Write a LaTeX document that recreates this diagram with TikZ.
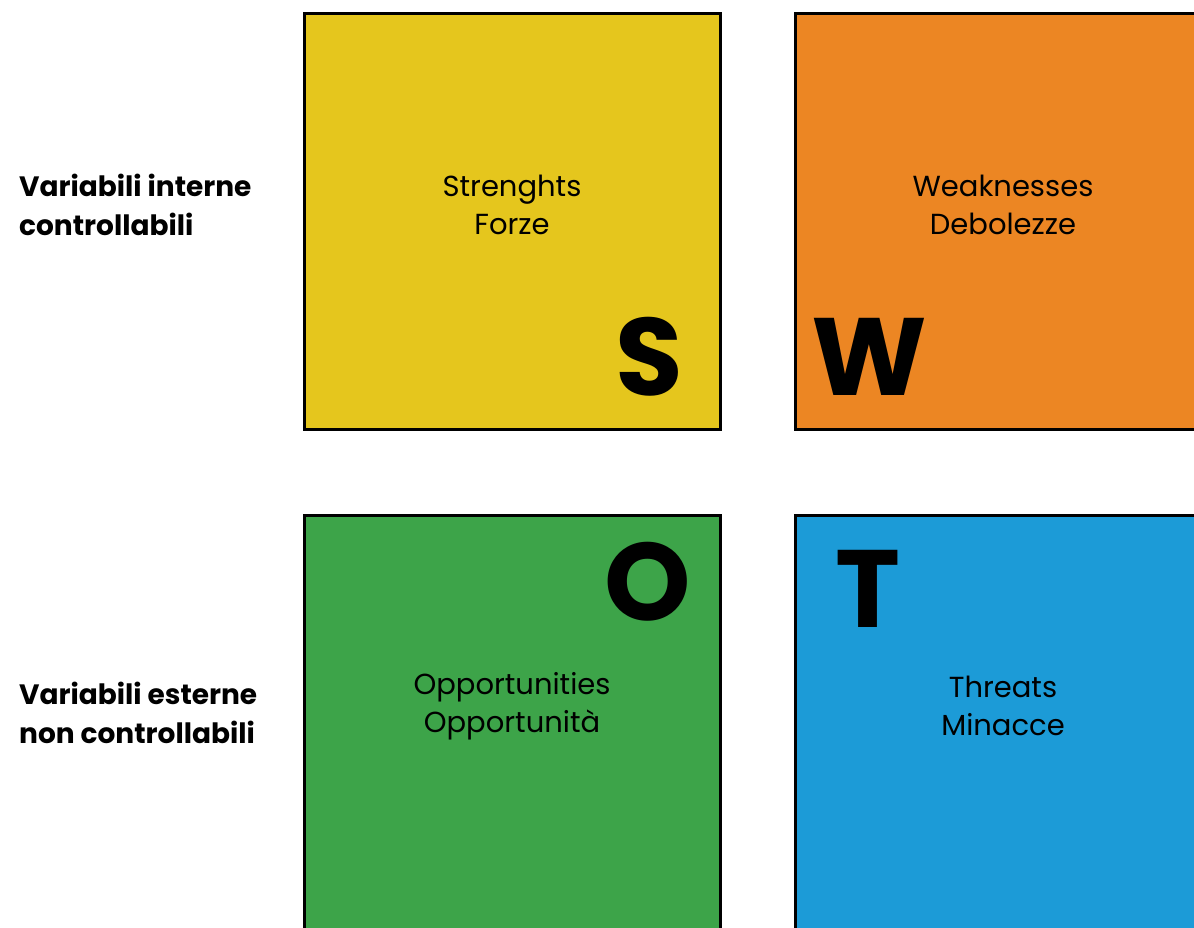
\documentclass[tikz,border=0pt]{standalone}
\usepackage{fontspec}
\setmainfont{Poppins}
\usetikzlibrary{positioning}
\definecolor{swotyellow}{HTML}{E5C61D}
\definecolor{swotorange}{HTML}{EC8623}
\definecolor{swotgreen}{HTML}{3DA449}
\definecolor{swotblue}{HTML}{1C9BD7}
\tikzset{
  quad/.style={draw=black, line width=3pt, minimum width=416pt, minimum height=416pt, anchor=north west, inner sep=0pt},
  caption/.style={font=\fontsize{29}{38}\selectfont, align=center, inner sep=0pt},
  letter/.style={font=\fontsize{110}{110}\selectfont\bfseries, inner sep=0pt, anchor=base},
  side/.style={font=\fontsize{28}{39}\selectfont\bfseries, align=left, anchor=west, inner sep=0pt}
}
\begin{document}
\begin{tikzpicture}[x=1pt, y=-1pt]
  \useasboundingbox[fill=white] (0,0) rectangle (1194,928);
  \clip (0,0) rectangle (1194,928);
  % the four quadrants
  \node[quad, fill=swotyellow] (S) at (303,12) {};
  \node[quad, fill=swotorange, minimum width=440pt] (W) at (794,12) {};
  \node[quad, fill=swotgreen, minimum height=440pt] (O) at (303,514) {};
  \node[quad, fill=swotblue, minimum width=440pt, minimum height=440pt] (T) at (794,514) {};
  % captions
  \node[caption] (Stxt) at (512,205) {Strenghts\\Forze};
  \node[caption] (Wtxt) at (1003,205) {Weaknesses\\Debolezze};
  \node[caption] (Otxt) at (512,706) {Opportunities\\Opportunità};
  \node[caption] (Ttxt) at (1003,706) {Threats\\Minacce};
  % big letters
  \node[letter] (Sl) at (649,395) {S};
  \node[letter] (Wl) at (869,395) {W};
  \node[letter] (Ol) at (648,620) {O};
  \node[letter] (Tl) at (868,627) {T};
  % side labels
  \node[side] (interne) at (19,205) {Variabili interne\\controllabili};
  \node[side] (esterne) at (19,713) {Variabili esterne\\non controllabili};
\end{tikzpicture}
\end{document}
